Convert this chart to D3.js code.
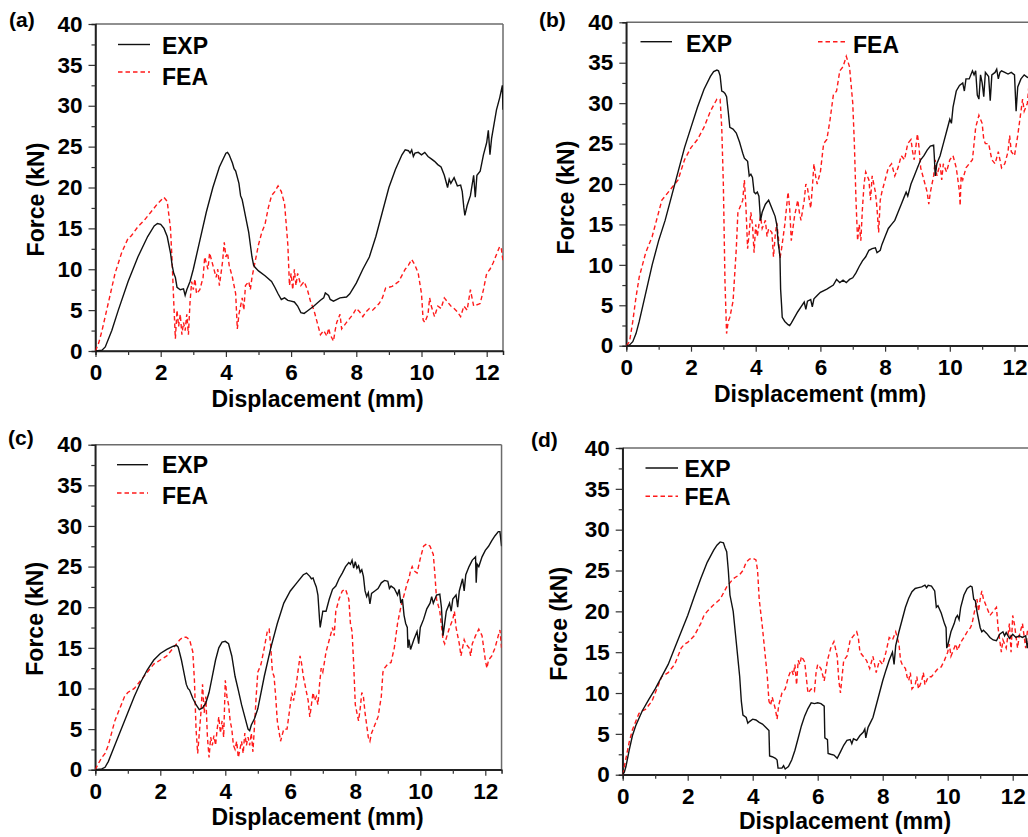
<!DOCTYPE html>
<html><head><meta charset="utf-8">
<script src="https://cdn.jsdelivr.net/npm/d3@7"></script>
<style>
html,body{margin:0;padding:0;background:#fff;}
svg{display:block;font-family:"Liberation Sans",Arial,sans-serif;font-weight:bold;}
</style></head><body>
<svg id="c" width="1028" height="837"></svg>
<script>
// ---------- DATA ----------
const xTickValues = [0, 2, 4, 6, 8, 10, 12];
const yTickValues = [0, 5, 10, 15, 20, 25, 30, 35, 40];
const panelLabels = ["(a)", "(b)", "(c)", "(d)"];
const seriesNames = ["EXP", "FEA"];
const xTitle = "Displacement (mm)";
const yTitle = "Force (kN)";

const aExp = [[0,0],[0.2,0.1],[0.3,0.5],[0.5,2.5],[0.7,5],[1.0,8.5],[1.3,11.5],[1.6,14],[1.8,15.3],[1.9,15.6],[2.0,15.5],[2.1,15.0],[2.2,14],[2.3,12],[2.35,10.5],[2.4,9.5],[2.45,9],[2.5,7.8],[2.6,7.5],[2.7,7.6],[2.75,6.8],[2.8,7.5],[2.9,8.5],[3.0,10],[3.2,13.5],[3.4,17],[3.6,20],[3.8,22.5],[4.0,24.2],[4.05,24.3],[4.1,24.0],[4.2,23],[4.25,22.3],[4.3,22],[4.4,20.5],[4.45,19],[4.5,18.5],[4.55,17.5],[4.6,16.5],[4.7,14.5],[4.75,13],[4.8,11.5],[4.85,10.5],[4.9,10.2],[5.0,9.8],[5.2,9.2],[5.4,8.5],[5.5,7.8],[5.6,7],[5.7,6.3],[5.8,6.5],[5.9,6.2],[6.0,6.1],[6.1,6.0],[6.2,5.5],[6.3,4.7],[6.4,4.6],[6.5,4.9],[6.7,5.5],[6.9,6.2],[7.0,6.5],[7.05,7.1],[7.15,6.8],[7.2,6.3],[7.3,6.1],[7.5,6.5],[7.7,6.6],[7.8,7],[8.0,8.3],[8.2,10],[8.4,11.5],[8.6,14],[8.8,17],[9.0,20],[9.2,22.2],[9.4,24],[9.5,24.6],[9.6,24.5],[9.65,24.2],[9.7,24.6],[9.75,23.8],[9.8,24.2],[9.9,24.3],[10.0,24.0],[10.1,24.3],[10.2,23.8],[10.3,23.5],[10.4,23.2],[10.5,22.8],[10.6,22.5],[10.7,21.5],[10.8,20],[10.85,21],[10.9,20.5],[11.0,21.2],[11.1,20.2],[11.2,20.3],[11.25,19.5],[11.3,17.5],[11.33,16.6],[11.4,17.8],[11.5,19],[11.6,21.5],[11.65,18.8],[11.7,21.5],[11.8,22],[11.9,24],[12.0,25.5],[12.05,27],[12.1,24],[12.15,26],[12.3,29.5],[12.4,31],[12.48,32.5],[12.5,29.5]];
const aFea = [[0,0],[0.1,1],[0.2,2.5],[0.4,6],[0.6,9.5],[0.8,12],[1.0,13.8],[1.1,14.1],[1.3,15.2],[1.5,16],[1.7,17],[1.9,18],[2.1,18.8],[2.2,18.3],[2.3,15],[2.35,11],[2.4,6],[2.45,1.5],[2.5,5],[2.55,3],[2.6,4.5],[2.65,2],[2.7,3.5],[2.75,2.5],[2.8,4.5],[2.85,2],[2.9,6],[2.95,8.5],[3.0,7.5],[3.05,8.8],[3.1,7],[3.2,7.5],[3.3,9],[3.35,11.5],[3.45,10],[3.5,12],[3.6,10.5],[3.7,9],[3.75,10],[3.8,8],[3.9,11],[3.95,13.3],[4.0,11.5],[4.05,12],[4.1,10.5],[4.2,9],[4.3,7],[4.35,2.7],[4.4,4.5],[4.5,6.5],[4.55,5],[4.6,8],[4.7,8.5],[4.75,7.5],[4.8,9],[4.9,11],[5.0,13],[5.1,14.5],[5.2,15.5],[5.3,17.5],[5.4,19],[5.5,19.5],[5.6,20.2],[5.7,19.5],[5.8,18],[5.9,13],[5.95,8],[6.0,9.5],[6.05,7.5],[6.1,10],[6.15,8],[6.2,9.5],[6.3,8],[6.4,8.5],[6.5,7.5],[6.6,6],[6.7,5],[6.8,3.5],[6.9,2],[7.0,2.5],[7.1,1.8],[7.15,2.8],[7.2,2],[7.3,1.2],[7.35,2.5],[7.4,3.5],[7.5,4.5],[7.55,2.7],[7.7,3.5],[7.9,4.5],[8.0,5.2],[8.1,4.8],[8.2,4.2],[8.3,4.8],[8.4,5.2],[8.5,5],[8.7,5.8],[8.8,6.5],[8.9,7.7],[9.1,7.9],[9.3,8.5],[9.5,10],[9.6,10.5],[9.7,11.2],[9.8,10.5],[9.9,9.5],[10.0,7],[10.05,3.8],[10.1,3.5],[10.2,4.5],[10.25,6.5],[10.3,5.5],[10.4,4.2],[10.5,5.5],[10.6,5.2],[10.7,6.5],[10.8,6],[10.9,5.5],[11.0,5.2],[11.1,4.8],[11.2,4.2],[11.3,5.5],[11.4,5],[11.5,7.5],[11.55,6.5],[11.6,5.5],[11.8,5.8],[11.9,7.5],[12.0,9.5],[12.1,10],[12.2,10.8],[12.3,11.8],[12.4,12.8],[12.45,12.5],[12.5,11]];

const bExp = [[0,0],[0.1,0.1],[0.2,0.5],[0.3,1.5],[0.4,3],[0.6,6.5],[0.8,10],[1.0,13],[1.2,15.5],[1.4,18.5],[1.6,21.5],[1.8,24.5],[2.0,27],[2.2,29.5],[2.4,31.7],[2.6,33.3],[2.7,33.9],[2.8,34.1],[2.85,34],[2.9,33.4],[2.95,31.5],[3.0,31.4],[3.05,31.2],[3.1,30.8],[3.15,29],[3.2,27],[3.3,26.8],[3.4,26.3],[3.5,25.2],[3.55,24.5],[3.6,23.8],[3.65,23.2],[3.7,23],[3.75,22.8],[3.8,21],[3.85,21.2],[3.9,20.8],[3.95,19],[4.0,18.8],[4.05,19],[4.1,18.5],[4.15,15.5],[4.2,16.5],[4.3,17.5],[4.4,18],[4.5,17],[4.6,16],[4.65,15],[4.7,12.5],[4.72,12],[4.75,11],[4.77,7],[4.8,5],[4.82,3.5],[4.9,3],[5.0,2.6],[5.05,2.5],[5.1,2.8],[5.2,3.5],[5.3,4.2],[5.4,4.8],[5.5,5.4],[5.55,4.5],[5.6,5.5],[5.7,5.7],[5.75,4.8],[5.8,5.8],[5.9,6.2],[6.0,6.6],[6.2,7],[6.4,7.5],[6.5,8.2],[6.6,7.8],[6.7,8.1],[6.8,7.8],[6.9,8.2],[7.0,8.4],[7.1,9],[7.2,9.8],[7.3,10.5],[7.4,11],[7.5,11.8],[7.6,12],[7.7,12.1],[7.75,11.5],[7.85,11.8],[7.9,12.5],[8.0,13.5],[8.1,14.5],[8.2,15],[8.3,15.5],[8.4,16.5],[8.5,17.5],[8.6,18.5],[8.65,19],[8.7,18.5],[8.8,20],[8.9,21],[9.0,22],[9.1,23],[9.2,23.5],[9.3,24.2],[9.4,24.7],[9.5,24.8],[9.52,23.5],[9.55,21],[9.6,22.5],[9.7,23.5],[9.8,25],[9.9,26.5],[10.0,28],[10.05,27.5],[10.1,29.5],[10.2,31.5],[10.3,32.2],[10.4,32.5],[10.45,31.5],[10.5,33],[10.6,33],[10.7,34],[10.75,33.5],[10.8,34],[10.85,31],[10.9,30.5],[10.95,33.5],[11.0,32.5],[11.05,30.8],[11.1,33.8],[11.2,33.3],[11.25,30.3],[11.3,33.5],[11.4,33.8],[11.45,34.2],[11.5,33],[11.55,33.8],[11.6,34],[11.7,33.8],[11.8,33.6],[11.9,33.8],[12.0,33.5],[12.05,29],[12.1,32],[12.2,33],[12.3,33.5],[12.4,33.2],[12.5,33]];
const bFea = [[0,0],[0.1,0.5],[0.2,3],[0.3,6],[0.4,8.5],[0.5,10],[0.6,11.5],[0.7,12.5],[0.8,13.5],[0.9,15],[1.0,16.5],[1.1,18],[1.2,18.5],[1.4,19.5],[1.6,20.5],[1.8,23],[2.0,24.5],[2.2,25.5],[2.4,27],[2.6,29],[2.8,30.5],[2.9,30.5],[2.95,27],[3.0,20],[3.05,8],[3.1,1.5],[3.15,3],[3.2,3.5],[3.3,5.5],[3.4,12],[3.45,16.5],[3.5,17],[3.6,18],[3.65,20.5],[3.7,17],[3.75,12],[3.8,14],[3.85,16.5],[3.9,15],[3.95,11.5],[4.0,15],[4.05,13.5],[4.1,15],[4.15,16],[4.2,14.5],[4.3,15.5],[4.35,13.5],[4.4,14.5],[4.5,14],[4.55,11],[4.6,13.5],[4.65,15.2],[4.7,13.5],[4.75,10.8],[4.8,12],[4.9,15],[5.0,19],[5.05,17],[5.1,13],[5.2,16],[5.3,18],[5.35,16.5],[5.4,15.5],[5.5,18],[5.55,20],[5.6,19.5],[5.7,17],[5.75,19.5],[5.8,22.5],[5.85,21],[5.9,20],[6.0,21.5],[6.1,25],[6.2,25.5],[6.3,28],[6.4,31],[6.5,31.5],[6.6,34],[6.7,34.5],[6.8,35.8],[6.9,34.5],[7.0,30],[7.05,25],[7.1,18],[7.15,13],[7.2,15],[7.25,13],[7.3,17],[7.35,20],[7.4,21.5],[7.5,20.5],[7.55,18],[7.6,21],[7.7,19],[7.75,17],[7.8,14],[7.85,18],[7.9,19],[8.0,20.5],[8.1,22],[8.2,22.5],[8.3,21],[8.4,22],[8.5,23.5],[8.6,23],[8.7,25],[8.8,25.5],[8.85,24],[8.9,23],[9.0,26.2],[9.05,24.5],[9.1,22],[9.2,20.5],[9.3,19],[9.35,17.5],[9.4,19],[9.5,21],[9.55,23],[9.6,21],[9.7,22.5],[9.75,20.5],[9.8,22.5],[9.9,21.5],[10.0,23],[10.1,23.5],[10.2,22],[10.3,19],[10.32,17.3],[10.35,21],[10.4,20.5],[10.5,22],[10.6,22.5],[10.7,23],[10.8,27],[10.9,28.5],[11.0,27.5],[11.05,25.5],[11.1,25],[11.2,25],[11.3,23],[11.4,22.5],[11.5,24],[11.6,22],[11.7,22.5],[11.8,24],[11.85,26],[11.9,24],[12.0,23.5],[12.1,26],[12.2,29],[12.25,30.5],[12.3,29],[12.4,30],[12.45,32.5],[12.5,32]];

const cExp = [[0,0],[0.2,0.1],[0.3,0.3],[0.4,1],[0.6,3],[0.8,5],[1.0,7],[1.2,9],[1.4,10.8],[1.6,12.3],[1.8,13.5],[2.0,14.3],[2.2,14.8],[2.4,15.2],[2.5,15.3],[2.55,15.1],[2.6,14.3],[2.65,13.5],[2.7,12.5],[2.75,11.5],[2.8,10.5],[2.85,10],[2.9,9.8],[3.0,8.8],[3.1,8],[3.2,7.4],[3.3,7.6],[3.4,8.2],[3.5,9.5],[3.6,11.5],[3.7,13.5],[3.8,15],[3.9,15.7],[4.0,15.8],[4.1,15.5],[4.2,14],[4.3,11.5],[4.4,9.8],[4.5,8],[4.6,6.5],[4.7,5],[4.75,4.8],[4.8,5.5],[4.9,6.3],[5.0,7.5],[5.2,11.5],[5.4,15],[5.6,18],[5.8,20.5],[6.0,22],[6.2,23],[6.4,24],[6.5,24.2],[6.6,23.8],[6.65,23.5],[6.7,23.6],[6.75,23],[6.8,22.5],[6.85,21.5],[6.9,18.5],[6.92,17.5],[7.0,19.5],[7.1,19.5],[7.2,21],[7.3,22.2],[7.4,22.6],[7.5,23.5],[7.6,24.2],[7.7,25],[7.8,25.5],[7.85,25.3],[7.9,25.8],[7.95,24.8],[8.0,25.6],[8.05,24.8],[8.1,25.1],[8.15,24.3],[8.2,24.6],[8.25,23.8],[8.3,22],[8.35,21.3],[8.4,21.8],[8.45,20.4],[8.5,21.7],[8.6,22],[8.7,22.3],[8.8,23],[8.9,23.3],[9.0,23.2],[9.05,22.3],[9.1,22.6],[9.2,22.3],[9.3,21.5],[9.35,22.2],[9.4,20.5],[9.45,21],[9.5,19],[9.55,18],[9.6,17.5],[9.62,15],[9.65,16],[9.7,14.8],[9.8,16],[9.9,17],[9.95,15.5],[10.0,17.5],[10.1,18.5],[10.2,19.8],[10.3,20.5],[10.35,21.3],[10.4,20.5],[10.5,21.5],[10.6,21.6],[10.65,20],[10.7,16.5],[10.75,18],[10.8,19.5],[10.9,20.5],[10.95,19.5],[11.0,21],[11.1,21.5],[11.15,20],[11.2,22],[11.3,23.5],[11.35,22],[11.4,24],[11.5,25],[11.6,25.8],[11.7,26.2],[11.72,23],[11.75,25.3],[11.8,25],[11.9,26.2],[12.0,27],[12.1,27.5],[12.2,28.2],[12.3,28.8],[12.4,29.3],[12.45,29.3],[12.5,27.5]];
const cFea = [[0,0],[0.1,0.8],[0.2,1.5],[0.3,2],[0.4,3],[0.5,4.5],[0.6,6],[0.7,7],[0.8,8],[0.9,9],[1.0,9.5],[1.2,10],[1.4,11],[1.6,12],[1.8,13],[2.0,13.5],[2.2,14],[2.4,15],[2.6,16],[2.7,16.3],[2.8,16.3],[2.9,16],[3.0,14.5],[3.05,11],[3.1,5],[3.15,2],[3.2,4.5],[3.25,7],[3.3,10.5],[3.35,7],[3.4,9],[3.45,4],[3.5,1.5],[3.55,4],[3.6,3],[3.65,4.2],[3.7,3],[3.75,5],[3.8,6.5],[3.85,4.5],[3.9,6],[3.95,4],[4.0,11],[4.05,9],[4.1,8],[4.15,6],[4.2,5],[4.25,3],[4.3,2.5],[4.35,3.5],[4.4,1.5],[4.45,2.5],[4.5,3.5],[4.55,2],[4.6,4.5],[4.65,3],[4.7,4],[4.75,3],[4.8,4.5],[4.85,2.2],[4.9,5.5],[4.95,9],[5.0,12],[5.1,13],[5.2,15],[5.3,17.2],[5.35,17.3],[5.4,15],[5.45,12],[5.5,11.5],[5.55,9],[5.6,6],[5.7,3.5],[5.8,5],[5.9,5],[6.0,8],[6.05,9.5],[6.1,8.5],[6.2,11],[6.3,14],[6.35,13],[6.4,11.5],[6.5,9.5],[6.55,8.5],[6.6,6.5],[6.65,8],[6.7,9.5],[6.75,8.5],[6.8,9],[6.85,8],[6.9,10.5],[6.95,12.5],[7.0,12],[7.1,14.5],[7.2,16],[7.3,17.5],[7.35,16.5],[7.4,19.5],[7.5,21],[7.6,22],[7.7,22.2],[7.8,21],[7.85,18],[7.9,17],[7.95,13],[8.0,8],[8.05,7],[8.1,6],[8.15,7.5],[8.2,9.5],[8.25,9],[8.3,7],[8.4,4],[8.45,3.5],[8.5,4.5],[8.6,5.5],[8.7,6.5],[8.8,9],[8.85,12],[8.9,12.5],[9.0,13],[9.1,13.2],[9.2,15],[9.3,18],[9.4,20],[9.5,21.5],[9.6,23],[9.65,23.5],[9.7,24.5],[9.75,25],[9.8,24.5],[9.9,24.2],[10.0,26],[10.1,27.5],[10.2,27.8],[10.3,27.5],[10.4,26.5],[10.45,24],[10.5,21],[10.6,19.5],[10.7,16],[10.75,15.5],[10.8,16.2],[10.9,17.5],[11.0,18.5],[11.05,19.5],[11.1,17.5],[11.2,15.5],[11.25,14],[11.3,15],[11.35,16],[11.4,15.5],[11.5,15],[11.55,14],[11.6,15.5],[11.7,16.5],[11.8,17.3],[11.9,16.5],[12.0,13.5],[12.05,12.5],[12.1,13.5],[12.2,14],[12.3,15],[12.4,16.5],[12.45,17.2],[12.5,15]];

const dExp = [[0,0],[0.05,0.3],[0.1,1],[0.2,3],[0.3,4.8],[0.4,6],[0.6,7.8],[0.8,9.2],[1.0,10.5],[1.2,12],[1.4,13.5],[1.6,15.5],[1.8,17.5],[2.0,19.5],[2.2,21.8],[2.4,24],[2.6,26],[2.8,27.5],[2.9,28.1],[3.0,28.5],[3.1,28.4],[3.15,27.8],[3.2,27.3],[3.25,25],[3.3,22],[3.4,20],[3.5,16],[3.55,14],[3.6,12],[3.65,9],[3.7,7.3],[3.8,7],[3.85,6.3],[3.9,6.5],[4.0,6.8],[4.1,6.7],[4.2,6.4],[4.3,6.2],[4.4,5.8],[4.5,5.4],[4.52,2.3],[4.6,2.2],[4.7,2],[4.75,1.8],[4.78,0.8],[4.9,0.8],[4.95,1.1],[5.0,0.7],[5.1,1],[5.2,1.8],[5.3,3],[5.4,4.5],[5.5,6],[5.6,7.2],[5.7,8.1],[5.8,8.8],[5.9,8.7],[6.0,8.8],[6.1,8.7],[6.2,8.4],[6.22,4.5],[6.3,4.3],[6.32,2.6],[6.4,2.5],[6.5,2.4],[6.6,2],[6.7,2.8],[6.8,3.6],[6.9,4.2],[7.0,4.3],[7.05,3.8],[7.1,4.4],[7.2,4.2],[7.3,4.8],[7.4,5.2],[7.45,5.6],[7.48,4.5],[7.55,5.8],[7.7,7],[7.8,8.5],[7.9,10],[8.0,11.5],[8.1,12.8],[8.2,14],[8.3,15],[8.35,13.5],[8.4,15.8],[8.5,17.5],[8.6,19],[8.7,20.5],[8.8,21.6],[8.9,22.4],[9.0,22.8],[9.1,22.9],[9.2,23],[9.3,23.2],[9.35,22.9],[9.4,23.2],[9.5,23.1],[9.6,22.5],[9.65,20.5],[9.7,20.7],[9.8,19.8],[9.9,18.5],[9.95,18],[9.97,15.5],[10.0,15.8],[10.1,17.5],[10.2,18.5],[10.25,19.2],[10.3,19.5],[10.35,19],[10.4,20.5],[10.5,22],[10.6,22.8],[10.7,23.1],[10.75,23],[10.8,21.5],[10.85,21.3],[10.9,20],[11.0,18],[11.05,17.5],[11.1,17.7],[11.2,17.3],[11.3,16.8],[11.4,16.5],[11.5,16.4],[11.6,17.2],[11.7,17.5],[11.75,17],[11.8,17.4],[11.9,16.7],[12.0,17.2],[12.1,16.8],[12.2,17],[12.3,16.8],[12.4,17],[12.45,15.5],[12.5,17]];
const dFea = [[0,0],[0.1,2],[0.2,4],[0.3,5.5],[0.4,6.5],[0.5,7.5],[0.6,7.8],[0.7,8],[0.8,8.5],[0.9,9],[1.0,10],[1.1,11],[1.2,12],[1.4,12.5],[1.6,13.5],[1.8,15.5],[1.9,16],[2.0,16.2],[2.2,17],[2.4,18.5],[2.5,19.5],[2.6,20],[2.8,20.8],[3.0,21.5],[3.2,23],[3.4,24],[3.6,24.5],[3.7,25],[3.8,26],[3.9,26.4],[4.0,26.5],[4.1,26.3],[4.15,25],[4.2,21.5],[4.3,18],[4.4,14],[4.45,12],[4.5,9],[4.55,8.5],[4.6,9.5],[4.7,8],[4.75,6.8],[4.8,8.5],[4.9,10],[5.0,10.5],[5.1,12],[5.15,12.5],[5.2,12.8],[5.25,12.2],[5.3,13.5],[5.35,11],[5.4,14],[5.45,13.5],[5.5,14.5],[5.6,13.8],[5.7,10],[5.8,10.5],[5.9,10.2],[5.95,12.5],[6.0,13.5],[6.1,13],[6.2,11.5],[6.3,14],[6.4,15.5],[6.5,16.3],[6.6,14.5],[6.65,11.5],[6.7,10],[6.75,12],[6.8,14],[6.9,14.5],[7.0,16.5],[7.1,17],[7.2,17.5],[7.25,16.8],[7.3,15],[7.4,14.5],[7.5,14],[7.6,13],[7.7,14.5],[7.75,13.5],[7.8,12.5],[7.9,14],[8.0,13.5],[8.1,15],[8.2,16.8],[8.3,16.5],[8.4,17.5],[8.5,16],[8.55,14],[8.6,13.5],[8.7,13],[8.75,12],[8.8,11.5],[8.85,12.5],[8.9,10.5],[9.0,11],[9.05,12],[9.1,10.5],[9.2,11.5],[9.25,12.5],[9.3,11],[9.4,12],[9.5,12],[9.6,12.5],[9.7,13],[9.8,13.2],[9.9,14],[10.0,15],[10.05,16],[10.1,14.5],[10.2,15.5],[10.25,16],[10.3,15.2],[10.4,16.2],[10.5,16.8],[10.6,17.5],[10.7,18],[10.75,18.5],[10.8,19.5],[10.85,20.5],[10.9,21.5],[10.95,20],[11.0,21.5],[11.05,22.5],[11.1,21.5],[11.2,20.5],[11.3,19.5],[11.4,20],[11.5,20.5],[11.55,18],[11.6,16.5],[11.65,15],[11.7,16.5],[11.8,15.5],[11.85,17],[11.9,18.5],[11.95,15],[12.0,19.5],[12.05,18.5],[12.1,17],[12.15,15.5],[12.2,17],[12.3,18.5],[12.35,17],[12.4,15.5],[12.45,17.5],[12.5,18]];

// ---------- LAYOUT ----------
const panels = [
  {label: panelLabels[0], exp: aExp, fea: aFea, x0: 95.5, pxPerMm: 32.6, yTop: 24, yBot: 351,
   lab: [9, 27], xt: [317.5, 407], yt: [44, 199.5],
   leg: {exp: [118, 150, 44.5, 162, 53.5], fea: [118, 150, 72, 162, 85]}},
  {label: panelLabels[1], exp: bExp, fea: bFea, x0: 626.3, pxPerMm: 32.35, yTop: 22.3, yBot: 345.7,
   lab: [539, 27], xt: [820, 401.5], yt: [574, 197.5],
   leg: {exp: [640.5, 672, 41.7, 686, 51.5], fea: [818, 847, 41.7, 853, 52.5]}},
  {label: panelLabels[2], exp: cExp, fea: cFea, x0: 95.3, pxPerMm: 32.5, yTop: 444.7, yBot: 769.7,
   lab: [8, 445], xt: [317.5, 825], yt: [43, 618.8],
   leg: {exp: [117, 148, 464.7, 162, 473], fea: [117, 148, 493, 162, 504]}},
  {label: panelLabels[3], exp: dExp, fea: dFea, x0: 622.7, pxPerMm: 32.5, yTop: 448, yBot: 774.7,
   lab: [531, 447], xt: [845, 828.5], yt: [566.5, 623.8],
   leg: {exp: [645.5, 678, 468, 684.5, 476.5], fea: [645.5, 678, 496.3, 684.5, 504.5]}}
];

const svg = d3.select("#c");
const RED = "#ff1a1a";
const DASH = "4.5,3";

panels.forEach((p, i) => {
  const x = d3.scaleLinear().domain([0, 12.5]).range([p.x0, p.x0 + 12.5 * p.pxPerMm]);
  const y = d3.scaleLinear().domain([0, 40]).range([p.yBot, p.yTop]);
  const g = svg.append("g");
  const clipId = "clip" + i;
  svg.append("clipPath").attr("id", clipId).append("rect")
    .attr("x", x(0)).attr("y", y(40) - 2).attr("width", x(12.5) - x(0)).attr("height", y(0) - y(40) + 4);

  // top & right frame
  g.append("line").attr("x1", x(0)).attr("x2", x(12.5)).attr("y1", y(40)).attr("y2", y(40))
    .attr("stroke", "#6b6b6b").attr("stroke-width", 1.5);
  g.append("line").attr("x1", x(12.5)).attr("x2", x(12.5)).attr("y1", y(40)).attr("y2", y(0))
    .attr("stroke", "#6b6b6b").attr("stroke-width", 1.5);

  // axes
  const xAxis = d3.axisBottom(x).tickValues(xTickValues).tickSize(6).tickPadding(7).tickFormat(d3.format("d"));
  const xMinor = d3.axisBottom(x).tickValues(d3.range(1, 13, 2)).tickSize(4).tickFormat("");
  const yAxis = d3.axisLeft(y).tickValues(yTickValues).tickSize(7).tickPadding(6).tickFormat(d3.format("d"));
  const yMinor = d3.axisLeft(y).tickValues(d3.range(2.5, 40, 5)).tickSize(4).tickFormat("");

  const gx = g.append("g").attr("transform", `translate(0,${y(0)})`).call(xAxis);
  g.append("g").attr("transform", `translate(0,${y(0)})`).call(xMinor);
  const gy = g.append("g").attr("transform", `translate(${x(0)},0)`).call(yAxis);
  g.append("g").attr("transform", `translate(${x(0)},0)`).call(yMinor);

  g.selectAll(".domain").attr("stroke", "#222").attr("stroke-width", 1.5);
  g.selectAll(".tick line").attr("stroke", "#333").attr("stroke-width", 1.2);
  g.selectAll(".tick text").attr("font-family", '"Liberation Sans",Arial,sans-serif')
    .attr("font-weight", "bold").attr("font-size", 22.5).attr("fill", "#000");
  gx.select(".domain").attr("d", `M${x(0)},0H${x(12.5)}`);
  gy.select(".domain").attr("d", `M0,${y(0)}V${y(40)}`);

  // lines
  const line = d3.line().x(d => x(d[0])).y(d => y(d[1]));
  const lg = g.append("g").attr("clip-path", `url(#${clipId})`);
  lg.append("path").datum(p.fea).attr("d", line).attr("fill", "none")
    .attr("stroke", RED).attr("stroke-width", 1.4).attr("stroke-dasharray", DASH);
  lg.append("path").datum(p.exp).attr("d", line).attr("fill", "none")
    .attr("stroke", "#111").attr("stroke-width", 1.4);

  // titles
  g.append("text").attr("x", p.xt[0]).attr("y", p.xt[1]).attr("text-anchor", "middle")
    .attr("font-size", 23).text(xTitle);
  g.append("text").attr("transform", `translate(${p.yt[0]},${p.yt[1]}) rotate(-90)`)
    .attr("text-anchor", "middle").attr("font-size", 23).text(yTitle);
  g.append("text").attr("x", p.lab[0]).attr("y", p.lab[1]).attr("font-size", 21).text(p.label);

  // legend
  const le = p.leg.exp, lf = p.leg.fea;
  g.append("line").attr("x1", le[0]).attr("x2", le[1]).attr("y1", le[2]).attr("y2", le[2])
    .attr("stroke", "#111").attr("stroke-width", 1.4);
  g.append("text").attr("x", le[3]).attr("y", le[4]).attr("font-size", 23).text(seriesNames[0]);
  g.append("line").attr("x1", lf[0]).attr("x2", lf[1]).attr("y1", lf[2]).attr("y2", lf[2])
    .attr("stroke", RED).attr("stroke-width", 1.4).attr("stroke-dasharray", DASH);
  g.append("text").attr("x", lf[3]).attr("y", lf[4]).attr("font-size", 23).text(seriesNames[1]);
});
</script>
</body></html>
